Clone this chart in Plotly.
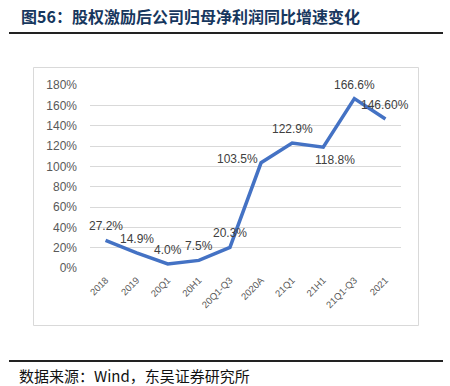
import plotly.graph_objects as go

categories = ["2018", "2019", "20Q1", "20H1", "20Q1-Q3", "2020A", "21Q1", "21H1", "21Q1-Q3", "2021"]
growth = [27.2, 14.9, 4.0, 7.5, 20.3, 103.5, 122.9, 118.8, 166.6, 146.6]
labels = ["27.2%", "14.9%", "4.0%", "7.5%", "20.3%", "103.5%", "122.9%", "118.8%", "166.6%", "146.60%"]
y_ticks = [0, 20, 40, 60, 80, 100, 120, 140, 160, 180]
y_ticktext = [f"{v}%" for v in y_ticks]

# label offsets (px): (xshift, yshift, xanchor, yanchor)
label_pos = [
    (0, 5, "center", "bottom"),
    (0, 5, "center", "bottom"),
    (0, 5, "center", "bottom"),
    (0, 5, "center", "bottom"),
    (0, 5, "center", "bottom"),
    (-1, 4, "right", "middle"),
    (0, 5, "center", "bottom"),
    (12, -4, "center", "top"),
    (0, 5, "center", "bottom"),
    (0, 5, "center", "bottom"),
]

W, H = 450, 386
L, R, T, B = 90, 49, 85, 118
pw, ph = W - L - R, H - T - B

def px(x):
    return (x - L) / pw

def py(y):
    return (H - B - y) / ph

fig = go.Figure()
fig.add_trace(go.Scatter(
    x=categories, y=growth, mode="lines",
    line=dict(color="#4472C4", width=3.5),
    hoverinfo="skip", showlegend=False,
))

annotations = []
for i, (v, t, (xs, ys, xa, ya)) in enumerate(zip(growth, labels, label_pos)):
    annotations.append(dict(
        x=i, y=v, xref="x", yref="y", text=t, showarrow=False,
        xshift=xs, yshift=ys, xanchor=xa, yanchor=ya,
        font=dict(family="Liberation Sans, Arial", size=12, color="#404040"),
    ))

annotations.append(dict(
    x=px(19), y=py(16), xref="paper", yref="paper", xanchor="left", yanchor="middle",
    text="<b>图56：股权激励后公司归母净利润同比增速变化</b>", showarrow=False,
    font=dict(family="Noto Sans CJK SC", size=16, color="#17375E"),
))
annotations.append(dict(
    x=px(17), y=py(375), xref="paper", yref="paper", xanchor="left", yanchor="middle",
    text="数据来源：Wind，东吴证券研究所", showarrow=False,
    font=dict(family="Noto Sans CJK SC", size=15, color="#111111"),
))

shapes = [
    dict(type="rect", xref="paper", yref="paper",
         x0=px(33.5), x1=px(418.5), y0=py(325.5), y1=py(67.5),
         line=dict(color="#D9D9D9", width=1), fillcolor="rgba(0,0,0,0)", layer="below"),
    dict(type="line", xref="paper", yref="paper",
         x0=px(9), x1=px(443), y0=py(33), y1=py(33),
         line=dict(color="#222222", width=2)),
    dict(type="line", xref="paper", yref="paper",
         x0=px(9), x1=px(443), y0=py(361), y1=py(361),
         line=dict(color="#222222", width=2)),
]

fig.update_layout(
    width=W, height=H,
    margin=dict(l=L, r=R, t=T, b=B, pad=0),
    paper_bgcolor="white", plot_bgcolor="white",
    annotations=annotations, shapes=shapes,
    xaxis=dict(
        type="category", tickangle=-45, showgrid=False, showline=False, zeroline=False,
        ticks="", tickfont=dict(family="Liberation Sans, Arial", size=9.5, color="#595959"),
        range=[-0.5, 9.5], fixedrange=True, ticklabelstandoff=4,
    ),
    yaxis=dict(
        range=[0, 180], tickvals=y_ticks, ticktext=y_ticktext,
        showgrid=True, gridcolor="#D9D9D9", gridwidth=1, zeroline=False, showline=False,
        ticks="", tickfont=dict(family="Liberation Sans, Arial", size=12, color="#595959"),
        ticklabelstandoff=12, fixedrange=True,
    ),
)

fig.write_html("out.html", config={"displayModeBar": False},
               post_script="document.body.style.margin='0';")
